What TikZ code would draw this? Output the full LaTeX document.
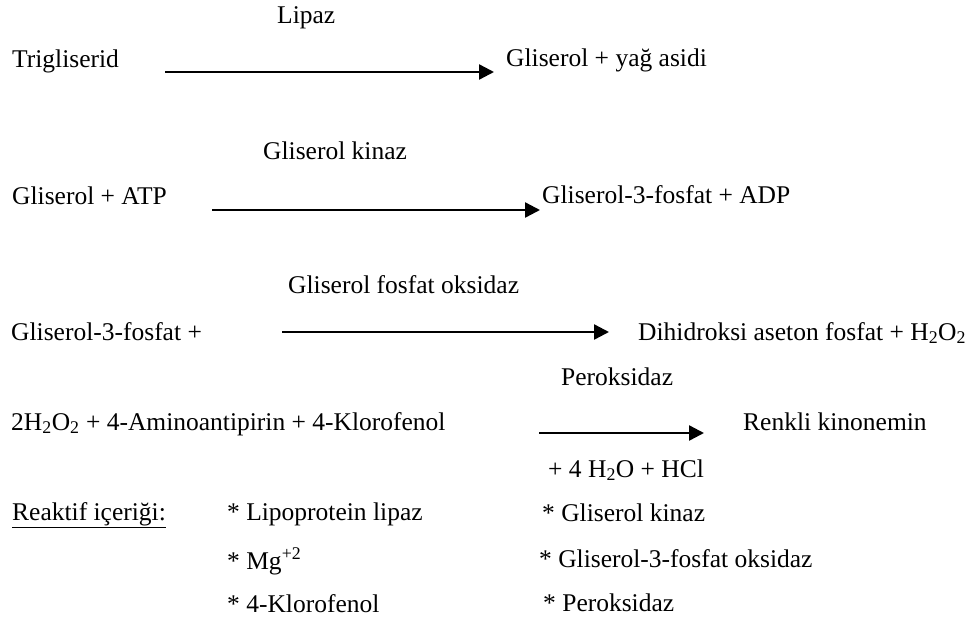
\documentclass[tikz,border=0pt]{standalone}
\usepackage{fontspec}
\setmainfont{Liberation Serif}
\usetikzlibrary{arrows.meta}
\begin{document}
\begin{tikzpicture}[x=1pt,y=-1pt,
  txt/.style={anchor=base west,inner sep=0pt,font=\fontsize{25.5}{30}\selectfont},
  rxn/.style={line width=2.4pt,-{Triangle[length=15pt,width=15pt]}}]
\useasboundingbox[fill=white] (0,0) rectangle (973,623);
% row 1
\node[txt] (lipaz) at (277,24) {Lipaz};
\node[txt] (trig) at (12,68) {Trigliserid};
\node[txt] (gya) at (506,67) {Gliserol + yağ asidi};
\coordinate (a1s) at (165,72);
\coordinate (a1e) at (494,72);
\draw[rxn] (a1s) -- (a1e);
% row 2
\node[txt] (gk) at (263,159) {Gliserol kinaz};
\node[txt] (gatp) at (12,204) {Gliserol + ATP};
\node[txt] (g3p) at (542,203) {Gliserol-3-fosfat + ADP};
\coordinate (a2s) at (212,210);
\coordinate (a2e) at (540,210);
\draw[rxn] (a2s) -- (a2e);
% row 3
\node[txt] (gfo) at (288,293) {Gliserol fosfat oksidaz};
\node[txt] (g3pp) at (11,340) {Gliserol-3-fosfat +};
\node[txt] (dhap) at (638,340) {Dihidroksi aseton fosfat + H\textsubscript{2}O\textsubscript{2}};
\coordinate (a3s) at (282,332);
\coordinate (a3e) at (609,332);
\draw[rxn] (a3s) -- (a3e);
% row 4
\node[txt] (perox) at (561,385) {Peroksidaz};
\node[txt] (h2o2) at (11,430) {2H\textsubscript{2}O\textsubscript{2} + 4-Aminoantipirin + 4-Klorofenol};
\node[txt] (renk) at (743,430) {Renkli kinonemin};
\node[txt] (hcl) at (548,477) {+ 4 H\textsubscript{2}O + HCl};
\coordinate (a4s) at (539,433);
\coordinate (a4e) at (704,433);
\draw[rxn] (a4s) -- (a4e);
% reagents
\node[txt] (reak) at (12,520) {\underline{Reaktif içeriği:}};
\node[txt] (r1) at (227,520) {* Lipoprotein lipaz};
\node[txt] (r2) at (227,569) {* Mg\textsuperscript{+2}};
\node[txt] (r3) at (227,612) {* 4-Klorofenol};
\node[txt] (r4) at (542,521) {* Gliserol kinaz};
\node[txt] (r5) at (539,567) {* Gliserol-3-fosfat oksidaz};
\node[txt] (r6) at (543,611) {* Peroksidaz};
\end{tikzpicture}
\end{document}
